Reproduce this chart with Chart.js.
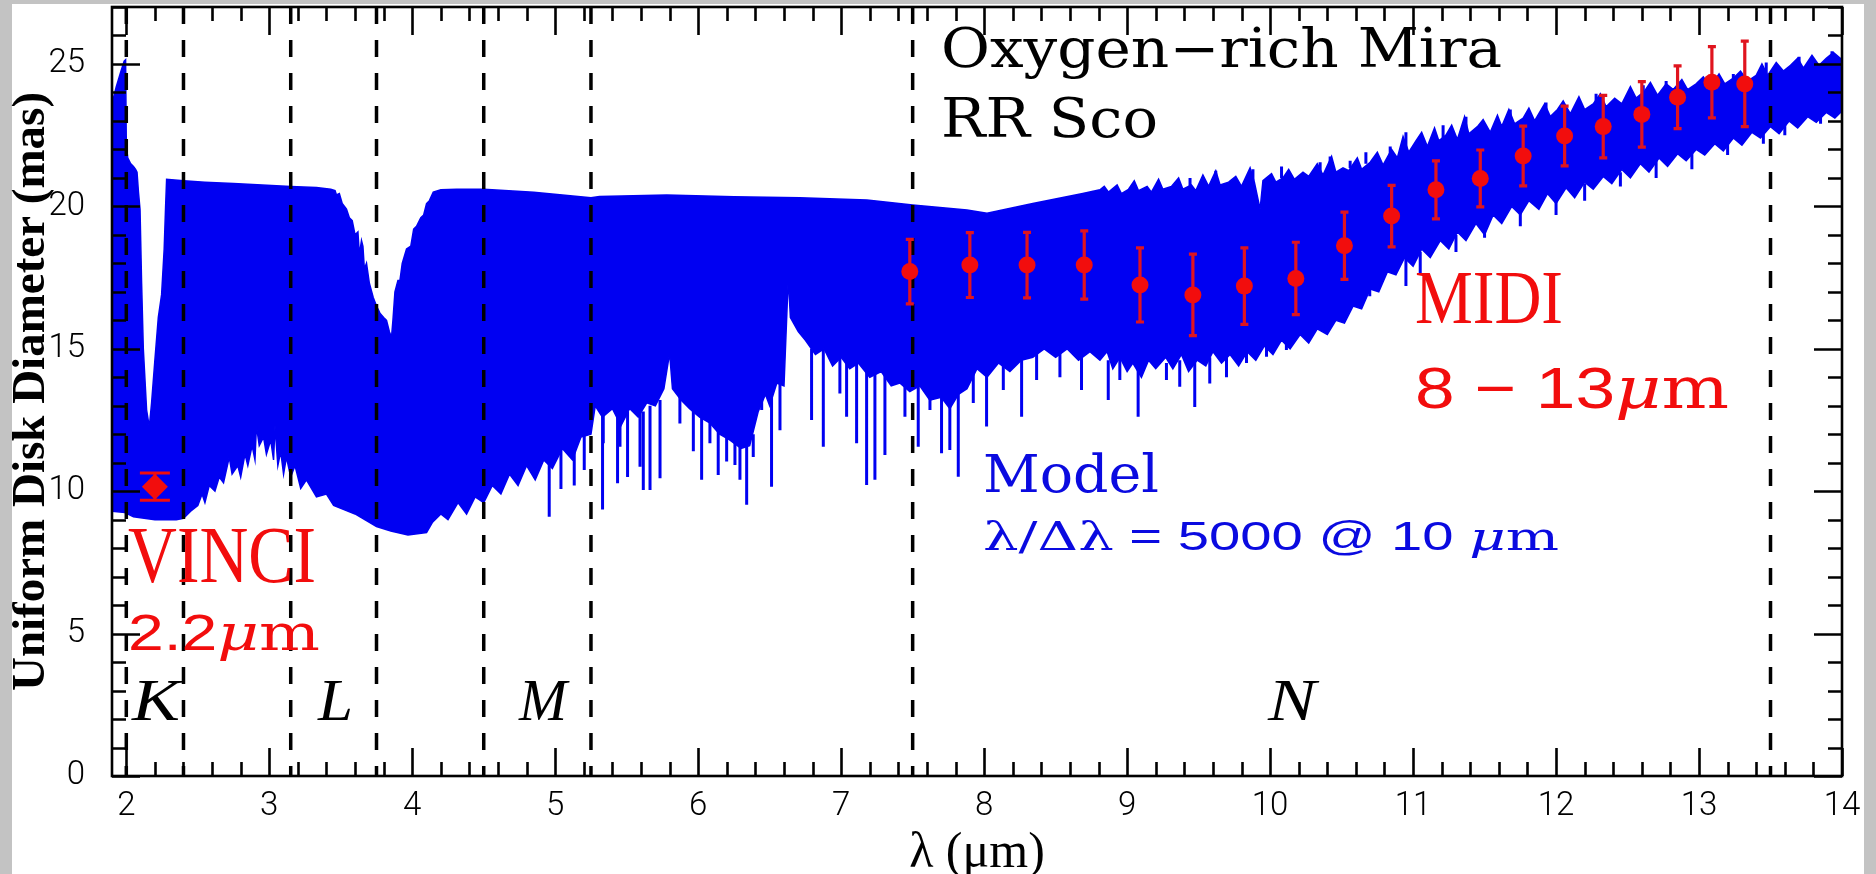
<!DOCTYPE html>
<html><head><meta charset="utf-8">
<script src="https://cdn.jsdelivr.net/npm/chart.js@4.4.1/dist/chart.umd.min.js"></script>
<style>
html,body{margin:0;padding:0;background:#c3c3c3;overflow:hidden}
#wrap{position:absolute;left:0;top:0;width:1876px;height:874px}
</style></head><body>
<div id="wrap"><canvas id="c" width="1876" height="874"></canvas></div>
<script>
// ---------------- data ----------------
const xTickLabels = [2,3,4,5,6,7,8,9,10,11,12,13,14];
const yTickLabels = [0,5,10,15,20,25];
const bandEdges = [2.0, 2.4, 3.15, 3.75, 4.5, 5.25, 7.5, 13.5];
const bandNames = ['K','L','M','N'];

// model spectrum: upper envelope
const upperLambda = [1.90,1.93,1.96,1.985,1.995,2.00,2.01,2.03,2.05,2.065,2.075,2.085,2.096,2.107,2.119,2.142,2.161,2.177,2.20,2.224,2.247,2.265,2.275,2.282,2.40,2.55,2.75,2.95,3.15,3.33,3.43,3.46,3.47,3.49,3.51,3.54,3.56,3.58,3.60,3.62,3.63,3.645,3.655,3.665,3.68,3.70,3.727,3.75,3.774,3.80,3.82,3.84,3.855,3.865,3.879,3.90,3.914,3.93,3.96,3.99,4.01,4.03,4.06,4.08,4.10,4.12,4.147,4.20,4.31,4.50,4.85,5.25,5.31,5.78,6.25,6.71,7.18,7.50,7.88,8.02,8.34,8.69,
  8.81,8.84,8.87,8.93,8.96,9.01,9.05,9.08,9.14,9.17,9.22,9.25,9.31,9.36,9.39,9.45,9.48,9.53,9.57,9.62,9.65,9.71,9.76,9.80,9.86,9.89,9.93,9.95,10.01,10.04,10.09,10.13,10.17,10.23,10.27,10.33,10.37,10.43,10.46,10.51,10.55,10.61,10.64,10.70,10.75,10.79,10.85,10.89,10.93,10.97,11.02,11.06,11.10,11.15,11.18,11.23,11.27,11.31,11.36,11.39,11.45,11.49,11.54,11.59,11.62,11.67,11.71,11.77,11.81,11.85,11.92,11.96,12.01,12.05,12.10,12.16,12.20,12.26,12.31,12.35,12.41,12.46,12.52,12.56,12.62,12.66,12.71,12.77,12.82,12.88,12.92,12.98,13.03,13.08,13.14,13.18,13.24,13.29,13.34,13.40,13.44,13.48,13.54,13.59,13.64,13.69,13.73,13.79,13.84,13.89,13.94,14.00];
const upperDiameter = [23.6,24.2,24.7,25.1,25.15,22.2,21.7,21.5,21.4,21.3,21.2,20.5,19.9,17.3,15.0,12.85,12.25,13.1,14.6,16.1,16.9,18.5,20.0,20.95,20.9,20.85,20.8,20.75,20.7,20.66,20.6,20.55,20.4,20.45,20.1,19.9,19.6,19.5,19.0,19.1,18.3,18.8,18.6,17.8,18.0,17.3,16.8,16.5,16.25,16.1,16.0,15.6,15.4,16.0,17.0,17.4,17.4,18.0,18.5,18.6,19.2,19.3,19.6,19.7,20.1,20.2,20.5,20.58,20.6,20.6,20.5,20.3,20.35,20.4,20.34,20.3,20.22,20.05,19.87,19.76,20.1,20.45,
  20.58,20.7,20.5,20.75,20.45,20.6,20.9,20.55,20.7,20.5,20.95,20.6,20.7,21.0,20.6,20.75,20.55,21.1,20.7,21.25,20.75,20.85,21.05,20.7,21.35,20.85,19.9,20.9,21.15,20.85,21.0,21.3,20.95,21.2,21.05,21.5,21.1,21.75,21.2,21.35,21.25,21.7,21.3,21.55,21.9,21.45,22.0,21.7,22.45,21.9,22.3,22.6,22.1,22.75,22.3,22.5,22.85,22.35,23.15,22.55,22.8,23.05,22.6,23.2,22.8,23.4,22.9,23.1,23.45,23.0,23.6,23.15,23.4,23.7,23.25,23.85,23.4,23.6,23.95,23.5,23.8,23.6,24.2,23.8,24.05,24.35,23.9,24.3,24.1,24.45,24.1,24.3,24.55,24.2,24.65,24.3,24.5,24.75,24.4,24.6,25.0,24.6,25.05,24.75,24.95,25.2,24.85,25.3,24.95,25.2,25.4,25.15];

// model spectrum: lower envelope
const lowerLambda = [1.90,1.99,2.05,2.20,2.35,2.40,2.45,2.50,2.53,2.55,2.58,2.62,2.65,2.68,2.72,2.74,2.78,2.80,2.83,2.85,2.88,2.90,2.91,2.93,2.96,2.98,3.01,3.03,3.04,3.06,3.08,3.10,3.12,3.15,3.18,3.22,3.26,3.33,3.40,3.45,3.60,3.75,3.85,3.97,4.10,4.14,4.20,4.25,4.32,4.38,4.44,4.50,4.56,4.62,4.68,4.74,4.80,4.86,4.92,4.98,5.05,5.12,5.18,5.25,5.28,5.33,5.40,5.46,5.52,5.58,5.64,5.70,5.76,5.80,5.82,5.88,5.94,6.01,6.08,6.15,6.22,6.30,6.36,6.42,6.47,6.50,6.55,6.60,6.63,6.645,6.70,6.75,6.82,6.88,6.94,7.00,7.06,7.12,7.20,7.28,7.35,7.41,7.48,7.55,7.62,7.70,7.76,7.82,7.88,7.95,8.02,8.10,8.18,8.26,8.34,8.42,8.50,8.58,8.66,8.74,
  8.81,8.86,8.90,8.95,9.00,9.04,9.10,9.15,9.20,9.27,9.32,9.38,9.43,9.49,9.55,9.60,9.66,9.72,9.78,9.84,9.90,9.96,10.02,10.08,10.14,10.21,10.27,10.33,10.40,10.46,10.52,10.58,10.64,10.70,10.76,10.82,10.88,10.94,11.00,11.06,11.12,11.19,11.25,11.31,11.37,11.44,11.50,11.56,11.62,11.69,11.75,11.81,11.88,11.94,12.00,12.07,12.13,12.20,12.26,12.33,12.39,12.46,12.52,12.59,12.65,12.72,12.78,12.85,12.91,12.98,13.04,13.11,13.17,13.24,13.30,13.37,13.43,13.50,13.56,13.63,13.69,13.76,13.82,13.89,13.95,14.00];
const lowerDiameter = [9.3,9.25,9.1,9.0,9.0,9.05,9.3,9.5,9.9,9.6,10.2,10.0,10.5,10.3,11.2,10.6,10.9,10.5,11.3,10.9,11.6,11.1,12.3,11.6,11.9,11.3,11.8,11.1,12.3,10.9,11.4,10.6,11.2,10.5,10.9,10.1,10.4,9.8,9.9,9.5,9.2,8.76,8.6,8.46,8.55,8.9,9.2,9.0,9.6,9.2,9.8,9.6,10.2,9.9,10.6,10.2,10.9,10.4,11.1,10.8,11.5,11.1,11.9,12.0,13.0,12.6,12.9,12.3,12.9,12.6,13.1,13.0,13.6,14.85,13.6,13.2,12.9,12.6,12.4,12.0,11.8,11.5,11.6,12.8,13.4,13.0,13.8,13.7,17.5,16.1,15.6,15.3,14.8,15.0,14.4,14.7,14.3,14.5,14.0,14.2,13.7,13.8,13.5,13.7,13.2,13.3,12.9,13.4,13.6,14.3,14.0,14.5,14.2,14.6,14.7,15.0,14.7,15.0,14.6,14.9,
  14.6,14.9,14.3,14.7,14.2,14.5,14.0,14.6,14.3,14.7,14.3,14.8,14.2,14.6,14.4,14.9,14.5,14.8,14.4,14.9,14.6,15.1,14.8,15.3,15.0,15.5,15.2,15.7,15.5,16.0,15.9,16.5,16.4,17.1,17.0,17.7,17.6,18.2,17.9,18.5,18.2,18.8,18.5,19.1,18.8,19.4,19.0,19.7,19.4,20.0,19.7,20.2,19.9,20.45,20.1,20.65,20.3,20.85,20.6,21.05,20.8,21.3,21.0,21.5,21.2,21.7,21.4,21.85,21.6,22.0,21.8,22.2,21.95,22.4,22.15,22.6,22.4,22.8,22.55,23.0,22.75,23.15,22.95,23.3,23.1,23.35];

// single absorption / emission lines of the model (both ends of each line)
const spikeLambda = [4.958,5.04,5.133,5.203,5.331,5.336,5.436,5.453,5.506,5.593,5.616,5.663,5.733,5.872,5.966,6.024,6.082,6.14,6.199,6.257,6.292,6.339,6.385,6.444,6.513,6.572,6.793,6.875,6.991,7.038,7.108,7.178,7.236,7.306,7.446,7.539,7.621,7.702,7.76,7.819,7.924,8.017,8.134,8.262,8.367,8.53,8.681,8.868,8.949,9.077,9.275,9.368,9.473,9.578,9.695,9.835,9.975,10.114,10.254,10.394,10.58,10.697,10.95,11.05,11.30,11.50,11.75,12.00,12.20,12.45,12.70,12.95,13.20,13.45,13.60,13.85,
  9.44,9.62,9.88,10.08,10.35,10.42,10.56,10.67,10.84,10.95,11.21,11.37,11.68,11.93,12.28,12.61,12.77,13.24,13.47,13.70,13.93];
const spikeLow =    [9.1,10.08,10.2,10.74,9.36,11.68,10.28,11.56,10.5,10.86,10.04,10.04,10.45,12.38,11.4,10.4,11.68,10.57,11.04,10.92,10.4,9.52,11.2,12.85,10.16,12.14,12.5,11.56,13.43,12.61,11.68,10.22,10.4,11.27,12.61,11.56,12.85,11.33,11.45,10.51,13.1,12.27,13.55,12.61,13.9,14.0,13.55,13.2,13.9,12.61,13.9,13.67,12.96,13.78,14.0,14.5,14.72,14.96,15.4,15.6,16.5,16.84,17.2,17.6,18.4,18.9,19.3,19.7,20.2,20.7,21.0,21.3,21.8,22.2,22.5,22.9,
  20.6,20.8,20.9,21.0,21.2,21.3,21.35,21.5,21.8,22.0,22.4,22.5,23.0,23.2,23.5,23.9,24.0,24.35,24.6,24.85,25.0];
const spikeHigh =   [11.2,11.5,11.5,12.0,12.8,13.0,12.9,12.8,12.8,12.8,12.8,13.0,13.2,13.4,13.0,12.8,12.6,12.3,12.0,12.0,11.8,11.8,12.0,13.2,13.3,14.0,15.0,15.0,14.8,14.8,14.6,14.3,14.3,14.3,14.0,13.9,13.6,13.6,13.3,13.6,14.2,14.3,14.7,14.8,15.0,15.0,14.9,14.6,14.8,14.4,14.5,14.6,14.6,14.7,14.8,15.0,15.2,15.4,15.7,16.0,16.7,17.2,18.2,18.4,19.0,19.5,20.0,20.5,20.8,21.2,21.6,21.9,22.3,22.7,22.9,23.2,
  21.0,21.25,21.3,21.4,21.55,21.75,21.6,21.9,22.1,22.6,22.85,23.15,23.4,23.65,23.95,24.25,24.4,24.65,25.05,25.25,25.45];

// MIDI measurements
const midiLambda   = [7.48,7.90,8.30,8.70,9.09,9.46,9.82,10.18,10.52,10.85,11.16,11.47,11.77,12.06,12.33,12.60,12.85,13.09,13.32];
const midiDiameter = [17.71,17.94,17.94,17.94,17.24,16.89,17.20,17.47,18.62,19.66,20.58,20.98,21.77,22.47,22.80,23.23,23.83,24.36,24.30];
const midiError    = [1.13,1.14,1.15,1.2,1.3,1.43,1.34,1.27,1.18,1.08,1.02,1.0,1.05,1.05,1.1,1.15,1.1,1.25,1.5];

// VINCI measurement
const vinciLambda   = [2.2];
const vinciDiameter = [10.16];
const vinciError    = [0.48];

// ---------------- styles ----------------
const BLUE = '#0000f2';
const BLUE_TXT = '#0a0ae0';
const RED = '#f20d0d';
const RED_BAR = '#e0141e';
const TICK_FONT = {family: 'Roboto, "Liberation Sans", sans-serif', size: 33, weight: 300};

const bandPoly = upperLambda.map((x,i)=>({x, y: upperDiameter[i]}))
  .concat(lowerLambda.map((x,i)=>({x, y: lowerDiameter[i]})).reverse());
const spikePts = [];
spikeLambda.forEach((x,i)=>{ spikePts.push({x, y: spikeLow[i]}, {x, y: spikeHigh[i]}, {x, y: null}); });

function drawRich(ctx, segs, x, y, targetW, color) {
  ctx.save();
  ctx.fillStyle = color; ctx.textBaseline = 'alphabetic'; ctx.textAlign = 'left';
  let w = 0;
  segs.forEach(s => { ctx.font = s.f; w += ctx.measureText(s.t).width; });
  const k = targetW / w;
  ctx.translate(x, y); ctx.scale(k, 1);
  let cx = 0;
  segs.forEach(s => { ctx.font = s.f; ctx.fillText(s.t, cx, 0); cx += ctx.measureText(s.t).width; });
  ctx.restore();
}

const SERIF = '"Liberation Serif", "Times New Roman", serif';
const DSERIF = '"DejaVu Serif", serif';
const SANS = '"Liberation Sans", Arial, sans-serif';
const notes = [
  {segs:[{t:'Oxygen\u2212rich Mira', f:'54px '+DSERIF}], x:941, y:67, w:561, c:'#000'},
  {segs:[{t:'RR Sco', f:'54px '+DSERIF}], x:941, y:137, w:217, c:'#000'},
  {segs:[{t:'MIDI', f:'76px '+SERIF}], x:1415, y:323, w:148, c:RED},
  {segs:[{t:'8 \u2212 13', f:'58px '+SANS},{t:'\u03bc', f:'italic 58px '+DSERIF},{t:'m', f:'58px '+DSERIF}], x:1415, y:408, w:314, c:RED},
  {segs:[{t:'Model', f:'52px '+DSERIF}], x:983, y:492, w:176, c:BLUE_TXT},
  {segs:[{t:'\u03bb/\u0394\u03bb', f:'40px '+DSERIF},{t:' = 5000 @ 10 ', f:'40px '+SANS},{t:'\u03bc', f:'italic 40px '+DSERIF},{t:'m', f:'40px '+DSERIF}], x:983, y:550, w:576, c:BLUE_TXT},
  {segs:[{t:'VINCI', f:'80px '+SERIF}], x:128, y:582, w:188, c:RED},
  {segs:[{t:'2.2', f:'50px '+SANS},{t:'\u03bc', f:'italic 50px '+DSERIF},{t:'m', f:'50px '+DSERIF}], x:128, y:650, w:192, c:RED},
];
const bandLabelPos = [{x:132,w:48},{x:318,w:35},{x:519,w:48},{x:1268,w:48}];

const deco = {
  id: 'deco',
  beforeDraw(chart) {
    const ctx = chart.ctx;
    ctx.save();
    ctx.fillStyle = '#c3c3c3'; ctx.fillRect(0,0,chart.width,chart.height);
    ctx.fillStyle = '#ffffff'; ctx.fillRect(12,4,1852,870);
    ctx.restore();
  },
  afterDatasetDraw(chart, args) {
    if (args.index !== 1) return;
    const {ctx, chartArea: a, scales:{x, y}} = chart;
    ctx.save();
    ctx.strokeStyle = '#000'; ctx.lineWidth = 3.5; ctx.setLineDash([17,16]);
    bandEdges.forEach(v => {
      const px = x.getPixelForValue(v);
      ctx.beginPath(); ctx.moveTo(px, a.top); ctx.lineTo(px, a.bottom); ctx.stroke();
    });
    ctx.setLineDash([]);
    const bars = (xs, ys, es, half, lw, col) => {
      ctx.strokeStyle = col; ctx.lineWidth = lw;
      xs.forEach((l,i) => {
        const px = x.getPixelForValue(l);
        const t = y.getPixelForValue(ys[i]+es[i]), b = y.getPixelForValue(ys[i]-es[i]);
        ctx.beginPath();
        ctx.moveTo(px,t); ctx.lineTo(px,b);
        ctx.moveTo(px-half,t); ctx.lineTo(px+half,t);
        ctx.moveTo(px-half,b); ctx.lineTo(px+half,b);
        ctx.stroke();
      });
    };
    bars(midiLambda, midiDiameter, midiError, 4, 3.2, RED_BAR);
    bars(vinciLambda, vinciDiameter, vinciError, 15, 3, RED);
    ctx.restore();
  },
  afterDraw(chart) {
    const {ctx, chartArea: a, scales:{x, y}} = chart;
    ctx.save();
    ctx.strokeStyle = '#000'; ctx.lineWidth = 2.6;
    ctx.strokeRect(a.left, a.top, a.right - a.left, a.bottom - a.top);
    ctx.beginPath();
    for (let i = 0; i <= 60; i++) {
      const v = 2 + i * 0.2;
      if (v > 14.001) break;
      const major = Math.abs(v - Math.round(v)) < 1e-6;
      const L = major ? 28 : 14;
      const px = Math.round(x.getPixelForValue(v)) + 0.5;
      ctx.moveTo(px, a.bottom); ctx.lineTo(px, a.bottom - L);
      ctx.moveTo(px, a.top); ctx.lineTo(px, a.top + L);
    }
    for (let v = 0; v <= 27; v++) {
      const L = v % 5 === 0 ? 28 : 14;
      const py = Math.round(y.getPixelForValue(v)) + 0.5;
      ctx.moveTo(a.left, py); ctx.lineTo(a.left + L, py);
      ctx.moveTo(a.right, py); ctx.lineTo(a.right - L, py);
    }
    ctx.stroke();
    ctx.restore();
    notes.forEach(n => drawRich(ctx, n.segs, n.x, n.y, n.w, n.c));
    bandNames.forEach((t,i) => drawRich(ctx, [{t, f:'italic 60px '+SERIF}], bandLabelPos[i].x, 720, bandLabelPos[i].w, '#000'));
  }
};

new Chart(document.getElementById('c'), {
  type: 'line',
  data: {
    datasets: [
      {label:'Model', data: bandPoly, borderColor: BLUE, backgroundColor: BLUE, borderWidth: 1.5, pointRadius: 0, fill: 'shape', tension: 0, order: 3},
      {label:'Model lines', data: spikePts, borderColor: BLUE, borderWidth: 3, pointRadius: 0, fill: false, spanGaps: false, tension: 0, order: 2},
      {label:'MIDI', data: midiLambda.map((l,i)=>({x:l, y:midiDiameter[i]})), showLine: false, pointRadius: 8.5, pointBackgroundColor: RED, pointBorderWidth: 0, borderColor: RED, order: 1},
      {label:'VINCI', data: vinciLambda.map((l,i)=>({x:l, y:vinciDiameter[i]})), showLine: false, pointStyle: 'rectRot', pointRadius: 13, pointBackgroundColor: RED, pointBorderWidth: 0, borderColor: RED, order: 0}
    ]
  },
  options: {
    responsive: false, animation: false, devicePixelRatio: 1,
    layout: {autoPadding: false, padding: {top: 7, right: 34, bottom: 0, left: 0}},
    plugins: {legend: {display: false}, tooltip: {enabled: false}},
    scales: {
      x: {
        type: 'linear', min: 1.9, max: 14, offset: false,
        grid: {display: false, drawTicks: false}, border: {display: false},
        ticks: {padding: 11, color: '#000', font: TICK_FONT, maxRotation: 0, autoSkip: false, callback: v => String(v)},
        afterBuildTicks: s => { s.ticks = xTickLabels.map(v => ({value: v})); },
        afterFit: s => { s.height = 98; s.paddingLeft = 0; s.paddingRight = 0; },
        title: {display: true, text: '\u03bb (\u03bcm)', color: '#000', font: {family: SERIF, size: 50, lineHeight: 0.8}, padding: 0}
      },
      y: {
        type: 'linear', min: 0, max: 27,
        grid: {display: false, drawTicks: false}, border: {display: false},
        ticks: {padding: 27, color: '#000', font: TICK_FONT, autoSkip: false, callback: v => String(v)},
        afterBuildTicks: s => { s.ticks = yTickLabels.map(v => ({value: v})); },
        afterFit: s => { s.width = 112; s.paddingTop = 0; s.paddingBottom = 0; },
        title: {display: true, text: 'Uniform Disk Diameter (mas)', color: '#000', font: {family: SERIF, size: 47, weight: 'bold', lineHeight: 1.2}, padding: {top: 4, bottom: 0}}
      }
    }
  },
  plugins: [deco]
});
</script>
</body></html>
